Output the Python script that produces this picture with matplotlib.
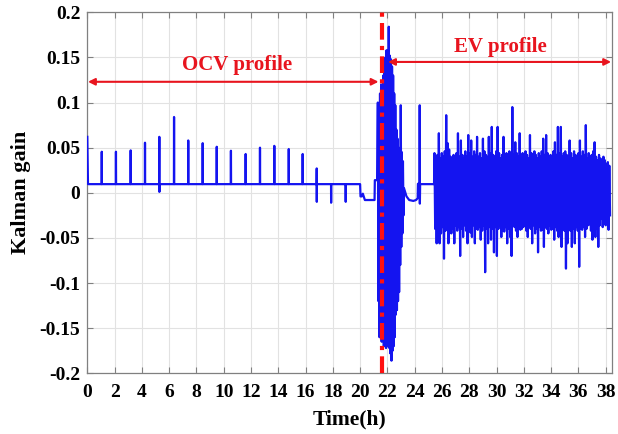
import matplotlib
matplotlib.use('Agg')
import matplotlib.pyplot as plt
import numpy as np

plt.rcParams['font.family'] = ['Liberation Serif', 'DejaVu Serif']
plt.rcParams['font.weight'] = 'bold'
plt.rcParams['axes.unicode_minus'] = False

# ---- data ----
base = 0.0096

# OCV pulses: time (h), top value, lowest value
ocv_t = [1.06, 2.10, 3.18, 4.23, 5.28, 6.36, 7.40, 8.46, 9.49, 10.53,
         11.61, 12.66, 13.71, 14.77, 15.79, 16.82, 17.87, 18.94]
ocv_hi = [0.0455, 0.0455, 0.047, 0.0555, 0.062, 0.084, 0.058, 0.055, 0.051, 0.0466,
          0.043, 0.050, 0.052, 0.0485, 0.043, 0.027, 0.0096, 0.0096]
ocv_lo = [0.0096, 0.0096, 0.0096, 0.0096, 0.001, 0.0096, 0.0096, 0.0096, 0.0096, 0.0096,
          0.0096, 0.0096, 0.0096, 0.0096, 0.0096, -0.010, -0.011, -0.010]

# start of the record and the small dip before the EV profile
dip_t = [0.0, 0.05, 20.00, 20.03, 20.12, 20.20, 20.35, 20.60, 20.90, 21.06, 21.08, 21.25]
dip_v = [0.062, base, base, -0.004, -0.004, -0.001, -0.008, -0.008, -0.008, -0.008, 0.014, 0.014]

# transition burst (milli units)
trans_hi = [100, 95, 110, 120, 100, 130, 145, 150, 158, 150, 184, 152,
            148, 140, 130, 110, 97, 70, 60, 50, 45, 97, 45, 35]
trans_lo = [-120, -160, -150, -165, -160, -170, -165, -172, -170, -168, -172, -178,
            -186, -175, -170, -160, -135, -130, -120, -110, -80, -60, -45, -25]

# recovery after the burst
rec_t = [23.22, 23.40, 23.60, 23.90, 24.10, 24.22, 24.24, 24.36, 24.37, 24.38, 24.40, 25.42]
rec_v = [0.005, -0.004, -0.008, -0.009, -0.008, -0.006, 0.010, 0.010, 0.097, -0.012, base, base]

# EV profile envelope (milli units)
ev_hi = [44, 40, 42, 66, 38, 44, 40, 46, 86, 55,
         48, 40, 36, 42, 38, 44, 66, 40, 58, 42,
         38, 46, 40, 64, 44, 58, 40, 46, 42, 62,
         40, 44, 38, 60, 46, 42, 40, 62, 44, 73,
         42, 40, 46, 73, 44, 38, 42, 62, 40, 44,
         38, 46, 40, 95, 42, 56, 44, 40, 66, 38,
         44, 40, 46, 42, 38, 64, 44, 40, 46, 42,
         38, 44, 40, 46, 60, 42, 64, 44, 38, 42,
         40, 46, 56, 42, 73, 44, 73, 40, 44, 46,
         42, 40, 58, 44, 38, 46, 42, 40, 44, 58,
         40, 46, 42, 75, 38, 44, 40, 42, 46, 56,
         40, 36, 42, 38, 34, 40, 36, 32, 34, 30]
ev_lo = [-40, -56, -44, -56, -45, -38, -73, -42, -40, -56,
         -38, -45, -40, -56, -36, -42, -38, -70, -40, -49,
         -36, -42, -56, -38, -44, -49, -36, -56, -40, -41,
         -38, -52, -42, -36, -88, -40, -56, -38, -52, -40,
         -66, -38, -70, -40, -36, -49, -42, -43, -38, -56,
         -40, -49, -70, -36, -38, -42, -49, -36, -41, -40,
         -38, -36, -42, -49, -38, -40, -56, -36, -45, -40,
         -66, -38, -42, -41, -60, -38, -40, -45, -36, -41,
         -40, -52, -38, -42, -49, -36, -60, -40, -42, -84,
         -56, -38, -42, -60, -40, -56, -38, -42, -82, -40,
         -41, -38, -49, -40, -36, -35, -42, -52, -38, -49,
         -40, -60, -36, -29, -38, -34, -36, -32, -41, -25]

switch_t = 21.63
xticks = list(range(0, 39, 2))
yticks = [-0.2, -0.15, -0.1, -0.05, 0, 0.05, 0.1, 0.15, 0.2]
ytick_labels = ['-0.2', '-0.15', '-0.1', '-0.05', '0', '0.05', '0.1', '0.15', '0.2']


def burst(t0, t1, hi, lo):
    # alternate between the upper and lower readings
    n = len(hi)
    tt = np.linspace(t0, t1, n)
    half = (t1 - t0) / (n - 1) / 2
    ts, vs = [], []
    for k in range(n):
        ts += [tt[k], tt[k] + half]
        vs += [hi[k] / 1000, lo[k] / 1000]
    return ts, vs


# ---- assemble the signal ----
t_all = dip_t[:2]
v_all = dip_v[:2]
for t, hi, lo in zip(ocv_t, ocv_hi, ocv_lo):
    t_all += [t - 0.01, t, t + 0.005, t + 0.01]
    v_all += [base, hi, lo, base]
t_all += dip_t[2:]
v_all += dip_v[2:]
ts, vs = burst(21.30, 23.14, trans_hi, trans_lo)
t_all += ts
v_all += vs
t_all += rec_t
v_all += rec_v
ts, vs = burst(25.45, 38.27, ev_hi, ev_lo)
t_all += ts
v_all += vs

# ---- figure ----
fig = plt.figure(figsize=(6.18, 4.34), dpi=100)
ax = fig.add_axes([87.3 / 618, 1 - 373.3 / 434, (611.5 - 87.3) / 618, (373.3 - 12.3) / 434])

ax.plot(t_all, v_all, color='#1414f0', lw=1.6, zorder=3)
ax.axvline(switch_t, color='#ff1010', lw=3, ls=(0, (4, 1.5, 1, 1.5)), zorder=4)

red = '#e8141e'
ax.annotate('', xy=(0.05, 0.123), xytext=(21.35, 0.123),
            arrowprops=dict(arrowstyle='<|-|>', color=red, lw=1.5,
                            mutation_scale=10, shrinkA=0, shrinkB=0))
ax.text(10.95, 0.1416, 'OCV profile', color=red, fontsize=15, fontweight='bold',
        ha='center', va='center')
ax.annotate('', xy=(22.05, 0.145), xytext=(38.4, 0.145),
            arrowprops=dict(arrowstyle='<|-|>', color=red, lw=1.5,
                            mutation_scale=10, shrinkA=0, shrinkB=0))
ax.text(30.26, 0.162, 'EV profile', color=red, fontsize=15, fontweight='bold',
        ha='center', va='center')

ax.set_xlim(0, 38.43)
ax.set_ylim(-0.2, 0.2)
ax.set_xticks(xticks)
ax.set_yticks(yticks)
ax.set_yticklabels(ytick_labels)
ax.grid(True, color='#e2e2e2', lw=0.8)
ax.set_axisbelow(True)
ax.tick_params(direction='in', top=True, right=True, length=4, width=0.8,
               color='#808080', labelcolor='black', labelsize=14)
ax.tick_params(axis='x', pad=8)
ax.tick_params(axis='y', pad=5)
for s in ax.spines.values():
    s.set_color('#808080')
    s.set_linewidth(0.9)

ax.set_xlabel('Time(h)', fontsize=15.5, fontweight='bold', labelpad=6)
ax.set_ylabel('Kalman gain', fontsize=16, fontweight='bold', labelpad=6)

fig.savefig('out.png', dpi=100)
